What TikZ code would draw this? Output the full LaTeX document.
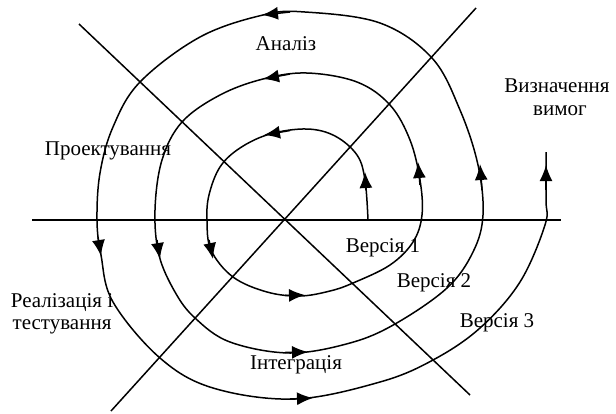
\documentclass[tikz,border=0pt]{standalone}
\usepackage{fontspec}
\setmainfont{Liberation Serif}
\usetikzlibrary{arrows.meta}
\begin{document}
\begin{tikzpicture}[x=1pt,y=-1pt,
  line/.style={line width=1.5pt},
  tip/.style={line width=1.5pt,-{Latex[length=16pt,width=13pt]}},
  lbl/.style={font=\fontsize{21}{24}\selectfont, inner sep=0pt, anchor=base}]
\useasboundingbox (0,0) rectangle (616,413);
% axes
\coordinate (hL) at (32,220);
\coordinate (hR) at (561,220);
\coordinate (d1a) at (79,24);
\coordinate (d1b) at (470,395);
\coordinate (d2a) at (111,411);
\coordinate (d2b) at (476,8);
\draw[line] (hL) -- (hR);
\draw[line] (d1a) -- (d1b);
\draw[line] (d2a) -- (d2b);
% spiral
\draw[line] plot[smooth, tension=0.6] coordinates {
(368,220) (365,180) (357,155) (335,136) (307,129) (270,134) (240,148) (220,167)
(209,195) (207,220) (211,250) (233,277) (267,292) (300,296) (330,291) (353,283)
(390,265) (413,242) (422,215) (420,180) (410,140) (390,105) (357,82) (307,73)
(263,79) (220,95) (182,122) (162,160) (155,210) (159,255) (175,292) (195,318)
(230,342) (290,353) (350,343) (395,324) (447,288) (473,252) (483,215) (478,165)
(460,110) (432,58) (380,23) (305,12) (263,15) (200,37) (140,82) (113,127)
(100,173) (97,220) (101,255) (113,302) (160,358) (213,388) (295,399) (380,382)
(433,360) (480,328) (520,282) (545,225) (546,200) (546,152)};
% arrow heads
\coordinate (a1s) at (366,190); \coordinate (a1e) at (365,172);
\coordinate (a2s) at (290,130.5); \coordinate (a2e) at (264,135);
\coordinate (a3s) at (209,240); \coordinate (a3e) at (213,259);
\coordinate (a4s) at (285,295.5); \coordinate (a4e) at (305,295);
\coordinate (a5s) at (420,185); \coordinate (a5e) at (418,162);
\coordinate (a6s) at (290,74); \coordinate (a6e) at (263,79);
\coordinate (a7s) at (157,240); \coordinate (a7e) at (160,259);
\coordinate (a8s) at (285,352.5); \coordinate (a8e) at (308,352);
\coordinate (a9s) at (482,190); \coordinate (a9e) at (480,164);
\coordinate (a10s) at (290,12); \coordinate (a10e) at (262,15);
\coordinate (a11s) at (98,237); \coordinate (a11e) at (101,256);
\coordinate (a12s) at (290,399); \coordinate (a12e) at (313,398);
\coordinate (a13s) at (546,190); \coordinate (a13e) at (546,165);
\foreach \i in {1,...,13} {\draw[tip] (a\i s) -- (a\i e);}
% labels
\node[lbl] (an) at (286,50) {Аналіз};
\node[lbl] (vz1) at (557,92) {Визначення};
\node[lbl] (vz2) at (560,115) {вимог};
\node[lbl] (pr) at (108,155) {Проектування};
\node[lbl] (re1) at (62,307) {Реалізація і};
\node[lbl] (re2) at (62,329) {тестування};
\node[lbl] (in) at (296,369) {Інтеграція};
\node[lbl] (v1) at (383,252) {Версія 1};
\node[lbl] (v2) at (434,287) {Версія 2};
\node[lbl] (v3) at (497,327) {Версія 3};
\end{tikzpicture}
\end{document}
